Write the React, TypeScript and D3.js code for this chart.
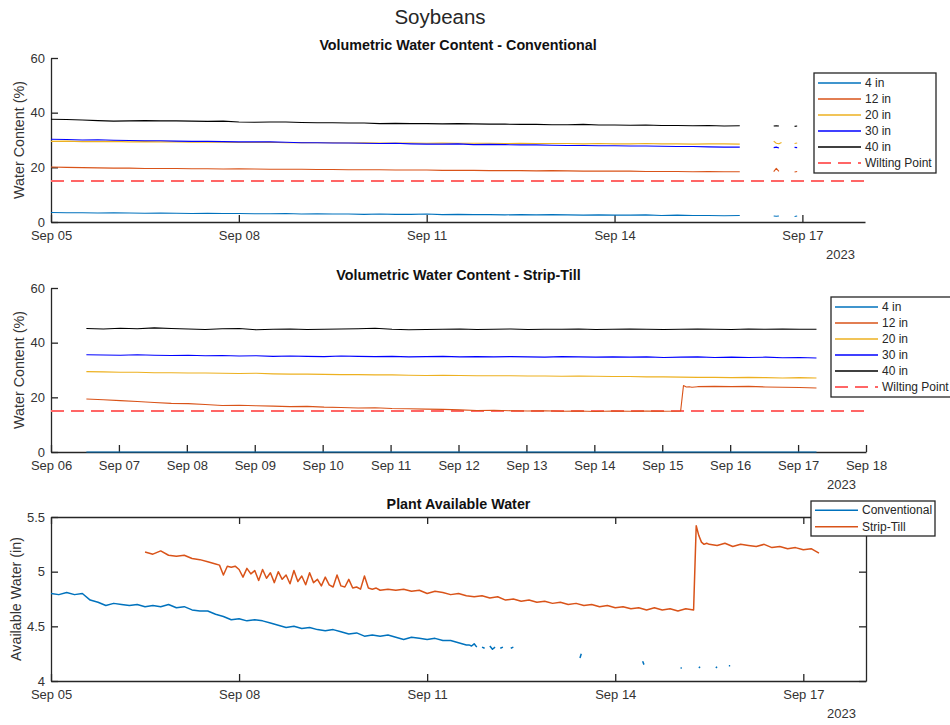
import React, { useEffect, useRef } from 'react';
import * as d3 from 'd3';

// a run of readings: start time, spacing in hours, values (NaN breaks the line)
type Frag = { t0: string; stepH: number; v: number[] };
const N = NaN;

const depthNames = ['4 in', '12 in', '20 in', '30 in', '40 in'];
const depthColors = ['#0072BD', '#D95319', '#EDB120', '#0000FF', '#000000'];
const wiltingPoint = 15;

// ---- Volumetric water content - Conventional (%) ----
const conv4in: Frag[] = [
  { t0: '2023-09-05T00:00', stepH: 6, v: [3.5, 3.4, 3.4, 3.3, 3.4, 3.3, 3.2, 3.3, 3.2, 3.1, 3.2, 3.1, 3.1, 3.0, 3.0, 3.1, 2.9, 3.0, 2.9, 2.9, 2.8, 2.9, 2.8, 2.8, 2.9, 2.7, 2.8, 2.7, 2.7, 2.6, 2.7, 2.6, 2.7, 2.6, 2.5, 2.6, 2.5, 2.5, 2.6, 2.4, 2.5, 2.4, 2.4, 2.3, 2.4] },
  { t0: '2023-09-16T12:00', stepH: 1, v: [N, 2.2, 2.1, 2.2] },
  { t0: '2023-09-16T20:00', stepH: 1, v: [N, 2.0, 2.2] },
];
const conv12in: Frag[] = [
  { t0: '2023-09-05T00:00', stepH: 6, v: [20.1, 20.0, 19.9, 19.8, 19.7, 19.7, 19.6, 19.6, 19.6, 19.5, 19.5, 19.4, 19.5, 19.4, 19.3, 19.3, 19.3, 19.2, 19.2, 19.1, 19.1, 19.1, 19.0, 19.0, 19.0, 18.9, 18.9, 18.9, 18.8, 18.8, 18.8, 18.7, 18.8, 18.7, 18.6, 18.6, 18.6, 18.6, 18.5, 18.5, 18.5, 18.4, 18.5, 18.4, 18.4] },
  { t0: '2023-09-16T12:00', stepH: 1, v: [N, 18.4, 19.6, 18.5] },
  { t0: '2023-09-16T20:00', stepH: 1, v: [N, 18.3, 18.5] },
];
const conv20in: Frag[] = [
  { t0: '2023-09-05T00:00', stepH: 6, v: [29.5, 29.6, 29.4, 29.4, 29.5, 29.3, 29.4, 29.3, 29.3, 29.2, 29.3, 29.2, 29.1, 29.1, 29.2, 29.0, 29.1, 29.0, 29.0, 28.9, 29.0, 28.9, 28.9, 28.9, 28.8, 28.9, 28.8, 28.8, 28.8, 28.7, 28.8, 28.7, 28.7, 28.7, 28.6, 28.7, 28.6, 28.6, 28.7, 28.6, 28.6, 28.5, 28.6, 28.6, 28.5] },
  { t0: '2023-09-16T12:00', stepH: 1, v: [N, 29.6, 28.8, 28.6, 29.1] },
  { t0: '2023-09-16T20:00', stepH: 1, v: [N, 28.7, 28.9] },
];
const conv30in: Frag[] = [
  { t0: '2023-09-05T00:00', stepH: 6, v: [30.3, 30.2, 30.0, 30.1, 29.9, 29.8, 29.7, 29.7, 29.6, 29.5, 29.5, 29.4, 29.3, 29.3, 29.3, 29.2, 29.0, 29.0, 28.9, 28.9, 28.8, 28.7, 28.8, 28.6, 28.5, 28.5, 28.6, 28.3, 28.4, 28.3, 28.2, 28.2, 28.1, 28.0, 28.0, 27.9, 27.9, 27.8, 27.8, 27.7, 27.6, 27.6, 27.5, 27.4, 27.4] },
  { t0: '2023-09-16T12:00', stepH: 1, v: [N, 27.2, 27.4, 27.1] },
  { t0: '2023-09-16T20:00', stepH: 1, v: [N, 27.3, 27.2] },
];
const conv40in: Frag[] = [
  { t0: '2023-09-05T00:00', stepH: 6, v: [37.6, 37.5, 37.3, 37.1, 36.9, 37.0, 37.1, 37.0, 37.0, 36.9, 36.8, 36.9, 36.6, 36.5, 36.6, 36.6, 36.4, 36.3, 36.3, 36.2, 36.2, 36.0, 36.1, 36.0, 36.0, 35.9, 36.0, 35.9, 35.8, 35.8, 35.7, 35.7, 35.6, 35.6, 35.7, 35.5, 35.5, 35.4, 35.5, 35.3, 35.3, 35.2, 35.3, 35.1, 35.2] },
  { t0: '2023-09-16T12:00', stepH: 1, v: [N, 35.1, 35.2, 35.1] },
  { t0: '2023-09-16T20:00', stepH: 1, v: [N, 35.0, 35.1] },
];

// ---- Volumetric water content - Strip-Till (%) ----
const strip4in: Frag[] = [
  { t0: '2023-09-06T12:30', stepH: 6, v: [0, 0, 0, 0, 0, 0, 0, 0, 0, 0, 0, 0, 0, 0, 0, 0, 0, 0, 0, 0, 0, 0, 0, 0, 0, 0, 0, 0, 0, 0, 0, 0, 0, 0, 0, 0, 0, 0, 0, 0, 0, 0, 0, 0] },
];
const strip12in: Frag[] = [
  { t0: '2023-09-06T12:30', stepH: 6, v: [19.4, 19.1, 18.8, 18.5, 18.1, 17.8, 17.7, 17.4, 17.0, 17.1, 16.9, 16.8, 16.6, 16.7, 16.4, 16.3, 16.1, 16.2, 15.9, 15.8, 15.7, 15.6, 15.4, 15.2, 15.3, 15.1, 15.0, 15.1, 14.9, 15.0, 14.8, 15.0, 14.9, 15.0, 14.9, 15.0] },
  { t0: '2023-09-15T07:30', stepH: 1, v: [24.3, 23.8, 23.9, 23.7, 23.8] },
  { t0: '2023-09-15T12:30', stepH: 6, v: [23.9, 24.0, 23.9, 24.0, 23.8, 23.7, 23.6, 23.4] },
];
const strip20in: Frag[] = [
  { t0: '2023-09-06T12:30', stepH: 6, v: [29.4, 29.3, 29.2, 29.2, 29.0, 29.0, 28.9, 28.9, 28.8, 28.7, 28.8, 28.6, 28.5, 28.5, 28.4, 28.3, 28.3, 28.2, 28.2, 28.1, 28.0, 28.1, 28.0, 27.9, 27.9, 27.9, 27.8, 27.8, 27.7, 27.8, 27.7, 27.6, 27.6, 27.5, 27.5, 27.4, 27.3, 27.3, 27.2, 27.3, 27.2, 27.1, 27.2, 27.1] },
];
const strip30in: Frag[] = [
  { t0: '2023-09-06T12:30', stepH: 6, v: [35.6, 35.5, 35.4, 35.6, 35.4, 35.3, 35.4, 35.2, 35.3, 35.1, 35.2, 35.0, 35.1, 35.0, 34.9, 35.1, 35.0, 34.9, 35.0, 34.8, 34.9, 35.0, 34.8, 34.9, 34.8, 34.9, 34.8, 34.7, 34.9, 34.8, 34.7, 34.8, 34.7, 34.8, 34.6, 34.7, 34.8, 34.6, 34.7, 34.6, 34.7, 34.5, 34.6, 34.4] },
];
const strip40in: Frag[] = [
  { t0: '2023-09-06T12:30', stepH: 6, v: [45.2, 45.0, 45.3, 45.1, 45.4, 45.2, 45.0, 44.8, 45.1, 45.2, 44.7, 44.9, 45.0, 44.8, 44.9, 45.0, 45.1, 45.3, 44.9, 44.7, 44.8, 44.9, 45.0, 44.8, 44.9, 45.0, 44.8, 44.9, 44.9, 45.0, 44.8, 44.9, 45.0, 44.9, 44.8, 44.9, 45.0, 44.9, 44.8, 45.0, 44.9, 45.0, 44.9, 44.9] },
];

// ---- Plant available water (in) ----
const pawConventional: Frag[] = [
  { t0: '2023-09-05T00:00', stepH: 3, v: [4.80, 4.79, 4.81, 4.79, 4.80, 4.74, 4.72, 4.69, 4.71, 4.70, 4.69, 4.70, 4.68, 4.69, 4.68, 4.70, 4.67, 4.68, 4.65, 4.64, 4.64, 4.61, 4.59, 4.56, 4.57, 4.55, 4.56, 4.55, 4.53, 4.51, 4.49, 4.50, 4.48, 4.49, 4.47, 4.46, 4.47, 4.45, 4.43, 4.44, 4.41, 4.42, 4.41, 4.42, 4.40, 4.38, 4.40, 4.39, 4.38, 4.39, 4.37, 4.37, 4.35, 4.33] },
  { t0: '2023-09-11T16:00', stepH: 1, v: [4.33, 4.32, 4.34, 4.31, N, 4.31, 4.30, N, 4.32, 4.29, 4.31, N, 4.30, 4.31, N, N, 4.30, 4.31, N] },
  { t0: '2023-09-13T10:00', stepH: 0.5, v: [N, 4.21, 4.25] },
  { t0: '2023-09-14T10:00', stepH: 0.5, v: [N, 4.18, 4.15] },
  { t0: '2023-09-15T00:30', stepH: 0.5, v: [N, 4.12, 4.12] },
  { t0: '2023-09-15T07:30', stepH: 0.5, v: [N, 4.12, 4.13] },
  { t0: '2023-09-15T14:00', stepH: 0.5, v: [N, 4.12, 4.13] },
  { t0: '2023-09-15T19:00', stepH: 0.5, v: [N, 4.14, 4.14] },
];
const pawStripTill: Frag[] = [
  { t0: '2023-09-06T12:00', stepH: 3, v: [5.18, 5.16, 5.19, 5.15, 5.14, 5.15, 5.12, 5.11, 5.09] },
  { t0: '2023-09-07T15:00', stepH: 1.5, v: [5.07, 5.06, 4.97, 5.05, 5.04, 5.05, 5.02, 4.95, 5.03, 4.98, 5.01, 4.92, 5.02, 4.94, 4.99, 4.90, 5.00, 4.93, 4.97, 4.89, 5.01, 4.91, 4.96, 4.88, 4.99, 4.90, 4.93, 4.87, 4.95, 4.88, 4.86, 4.97, 4.87, 4.86, 4.93, 4.85, 4.86, 4.84, 4.96, 4.85, 4.84, 4.85, 4.83] },
  { t0: '2023-09-10T09:00', stepH: 3, v: [4.84, 4.83, 4.84, 4.82, 4.83, 4.80, 4.82, 4.81, 4.79, 4.80, 4.78, 4.77, 4.78, 4.76, 4.77, 4.74, 4.75, 4.73, 4.74, 4.72, 4.73, 4.71, 4.72, 4.70, 4.71, 4.69, 4.70, 4.68, 4.69, 4.67, 4.68, 4.66, 4.67, 4.65, 4.67, 4.65, 4.66, 4.64, 4.66, 4.65] },
  { t0: '2023-09-15T07:00', stepH: 1, v: [5.42, 5.33, 5.27, 5.25, 5.26] },
  { t0: '2023-09-15T12:00', stepH: 3, v: [5.25, 5.24, 5.26, 5.23, 5.25, 5.24, 5.23, 5.25, 5.22, 5.23, 5.21, 5.22, 5.20, 5.21, 5.17] },
];
const pawNames = ['Conventional', 'Strip-Till'];
const pawColors = ['#0072BD', '#D95319'];

const xTicks1 = ['2023-09-05', '2023-09-08', '2023-09-11', '2023-09-14', '2023-09-17'];
const xTicks2 = ['2023-09-06', '2023-09-07', '2023-09-08', '2023-09-09', '2023-09-10', '2023-09-11', '2023-09-12', '2023-09-13', '2023-09-14', '2023-09-15', '2023-09-16', '2023-09-17', '2023-09-18'];
const vwcTicks = [0, 20, 40, 60];
const pawTicks = [4, 4.5, 5, 5.5];

const FONT = '"Liberation Sans", Arial, Helvetica, sans-serif';
const INK = '#262626';
const WILT = '#ff6666';

const day = (s: string) => new Date(s + 'T00:00:00Z');
const toPoints = (frags: Frag[]) =>
  frags.flatMap(f => {
    const t0 = Date.parse(f.t0 + ':00Z');
    return f.v.map((v, i) => ({ t: new Date(t0 + i * f.stepH * 3600e3), v }));
  });

type Series = { name: string; color: string; frags: Frag[] };

function drawPanel(svg: any, o: any) {
  const x = d3.scaleUtc().domain(o.xDomain).range([o.left, o.right]);
  const y = d3.scaleLinear().domain(o.yDomain).range([o.bottom, o.top]);
  const styleAxis = (g: any) => {
    g.attr('font-size', 13).attr('font-family', FONT);
    g.select('.domain').attr('stroke', INK).attr('stroke-width', 1.3);
    g.selectAll('.tick line').attr('stroke', INK).attr('stroke-width', 1.3);
    g.selectAll('.tick text').attr('fill', '#333');
  };

  svg.append('g').attr('transform', `translate(0,${o.bottom})`)
    .call(d3.axisBottom(x).tickValues(o.xTicks.map(day)).tickFormat(d3.utcFormat('%b %d') as any)
      .tickSizeInner(-7).tickSizeOuter(0).tickPadding(9))
    .call(styleAxis);
  svg.append('g').attr('transform', `translate(${o.left},0)`)
    .call(d3.axisLeft(y).tickValues(o.yTicks).tickFormat(d3.format('~g') as any)
      .tickSizeInner(-7).tickSizeOuter(0).tickPadding(6))
    .call(styleAxis);
  if (o.box) {
    svg.append('g').attr('transform', `translate(0,${o.top})`)
      .call(d3.axisTop(x).tickValues(o.xTicks.map(day)).tickFormat(() => '').tickSizeInner(-7).tickSizeOuter(0))
      .call(styleAxis);
    svg.append('g').attr('transform', `translate(${o.right},0)`)
      .call(d3.axisRight(y).tickValues(o.yTicks).tickFormat(() => '').tickSizeInner(-7).tickSizeOuter(0))
      .call(styleAxis);
  }

  // year under the last tick
  svg.append('text').attr('x', o.right - 10).attr('y', o.bottom + 37)
    .attr('text-anchor', 'end').attr('font-size', 13).attr('font-family', FONT).attr('fill', '#333')
    .text('2023');

  svg.append('text').attr('x', (o.left + o.right) / 2).attr('y', o.top - 8)
    .attr('text-anchor', 'middle').attr('font-size', 14.3).attr('font-weight', 'bold')
    .attr('font-family', FONT).attr('fill', '#111').text(o.title);

  svg.append('text')
    .attr('transform', `translate(${o.ylabelX},${(o.top + o.bottom) / 2}) rotate(-90)`)
    .attr('text-anchor', 'middle').attr('font-size', 14.3).attr('font-family', FONT).attr('fill', '#333')
    .text(o.ylabel);

  const line = d3.line<{ t: Date; v: number }>()
    .defined(d => !isNaN(d.v))
    .x(d => x(d.t)).y(d => y(d.v));

  if (o.wilting != null) {
    svg.append('line')
      .attr('x1', x.range()[0]).attr('x2', x.range()[1])
      .attr('y1', y(o.wilting)).attr('y2', y(o.wilting))
      .attr('stroke', WILT).attr('stroke-width', 1.8).attr('stroke-dasharray', '13,7');
  }

  o.series.forEach((s: Series) => {
    svg.append('path').datum(toPoints(s.frags))
      .attr('d', line).attr('fill', 'none')
      .attr('stroke', s.color).attr('stroke-width', o.lineW).attr('stroke-linejoin', 'round');
  });

  // legend
  const L = o.legend;
  const items = o.series.map((s: Series) => ({ name: s.name, color: s.color, dash: null as any }));
  if (o.wilting != null) items.push({ name: 'Wilting Point', color: WILT, dash: '13,7' });
  const lg = svg.append('g').attr('transform', `translate(${L.x},${L.y})`);
  lg.append('rect').attr('width', L.w).attr('height', L.pad * 2 + items.length * L.rowH)
    .attr('fill', '#fff').attr('stroke', INK).attr('stroke-width', 1.3);
  items.forEach((it: any, i: number) => {
    const cy = L.pad + L.rowH * (i + 0.5);
    lg.append('line').attr('x1', 4).attr('x2', 47).attr('y1', cy).attr('y2', cy)
      .attr('stroke', it.color).attr('stroke-width', it.dash ? 1.8 : 1.6)
      .attr('stroke-dasharray', it.dash);
    lg.append('text').attr('x', 51).attr('y', cy).attr('dy', '0.35em')
      .attr('font-size', 12).attr('font-family', FONT).attr('fill', INK).text(it.name);
  });
}

export default function App() {
  const ref = useRef<SVGSVGElement>(null);

  useEffect(() => {
    const svg = d3.select(ref.current);
    svg.selectAll('*').remove();

    svg.append('text').attr('x', 440).attr('y', 24).attr('text-anchor', 'middle')
      .attr('font-size', 20.5).attr('font-family', FONT).attr('fill', INK).text('Soybeans');

    const convSeries = [conv4in, conv12in, conv20in, conv30in, conv40in]
      .map((frags, i) => ({ name: depthNames[i], color: depthColors[i], frags }));
    const stripSeries = [strip4in, strip12in, strip20in, strip30in, strip40in]
      .map((frags, i) => ({ name: depthNames[i], color: depthColors[i], frags }));
    const pawSeries = [pawConventional, pawStripTill]
      .map((frags, i) => ({ name: pawNames[i], color: pawColors[i], frags }));

    drawPanel(svg, {
      left: 51, right: 865, top: 58, bottom: 222,
      xDomain: [day('2023-09-05'), day('2023-09-18')], xTicks: xTicks1,
      yDomain: [0, 60], yTicks: vwcTicks, box: false,
      title: 'Volumetric Water Content - Conventional', ylabel: 'Water Content (%)', ylabelX: 24,
      series: convSeries, wilting: wiltingPoint, lineW: 1.1,
      legend: { x: 814, y: 73, w: 122, rowH: 16, pad: 2 },
    });
    drawPanel(svg, {
      left: 51, right: 866, top: 288, bottom: 452,
      xDomain: [day('2023-09-06'), day('2023-09-18')], xTicks: xTicks2,
      yDomain: [0, 60], yTicks: vwcTicks, box: false,
      title: 'Volumetric Water Content - Strip-Till', ylabel: 'Water Content (%)', ylabelX: 24,
      series: stripSeries, wilting: wiltingPoint, lineW: 1.1,
      legend: { x: 831, y: 297, w: 125, rowH: 16, pad: 2 },
    });
    drawPanel(svg, {
      left: 51, right: 866, top: 517, bottom: 681,
      xDomain: [day('2023-09-05'), day('2023-09-18')], xTicks: xTicks1,
      yDomain: [4, 5.5], yTicks: pawTicks, box: true,
      title: 'Plant Available Water', ylabel: 'Available Water (in)', ylabelX: 21,
      series: pawSeries, wilting: null, lineW: 1.5,
      legend: { x: 811, y: 501, w: 124, rowH: 16.5, pad: 1 },
    });
  }, []);

  return (
    <svg ref={ref} width={950} height={725}
      style={{ position: 'absolute', left: 0, top: 0, background: '#fff' }} />
  );
}
